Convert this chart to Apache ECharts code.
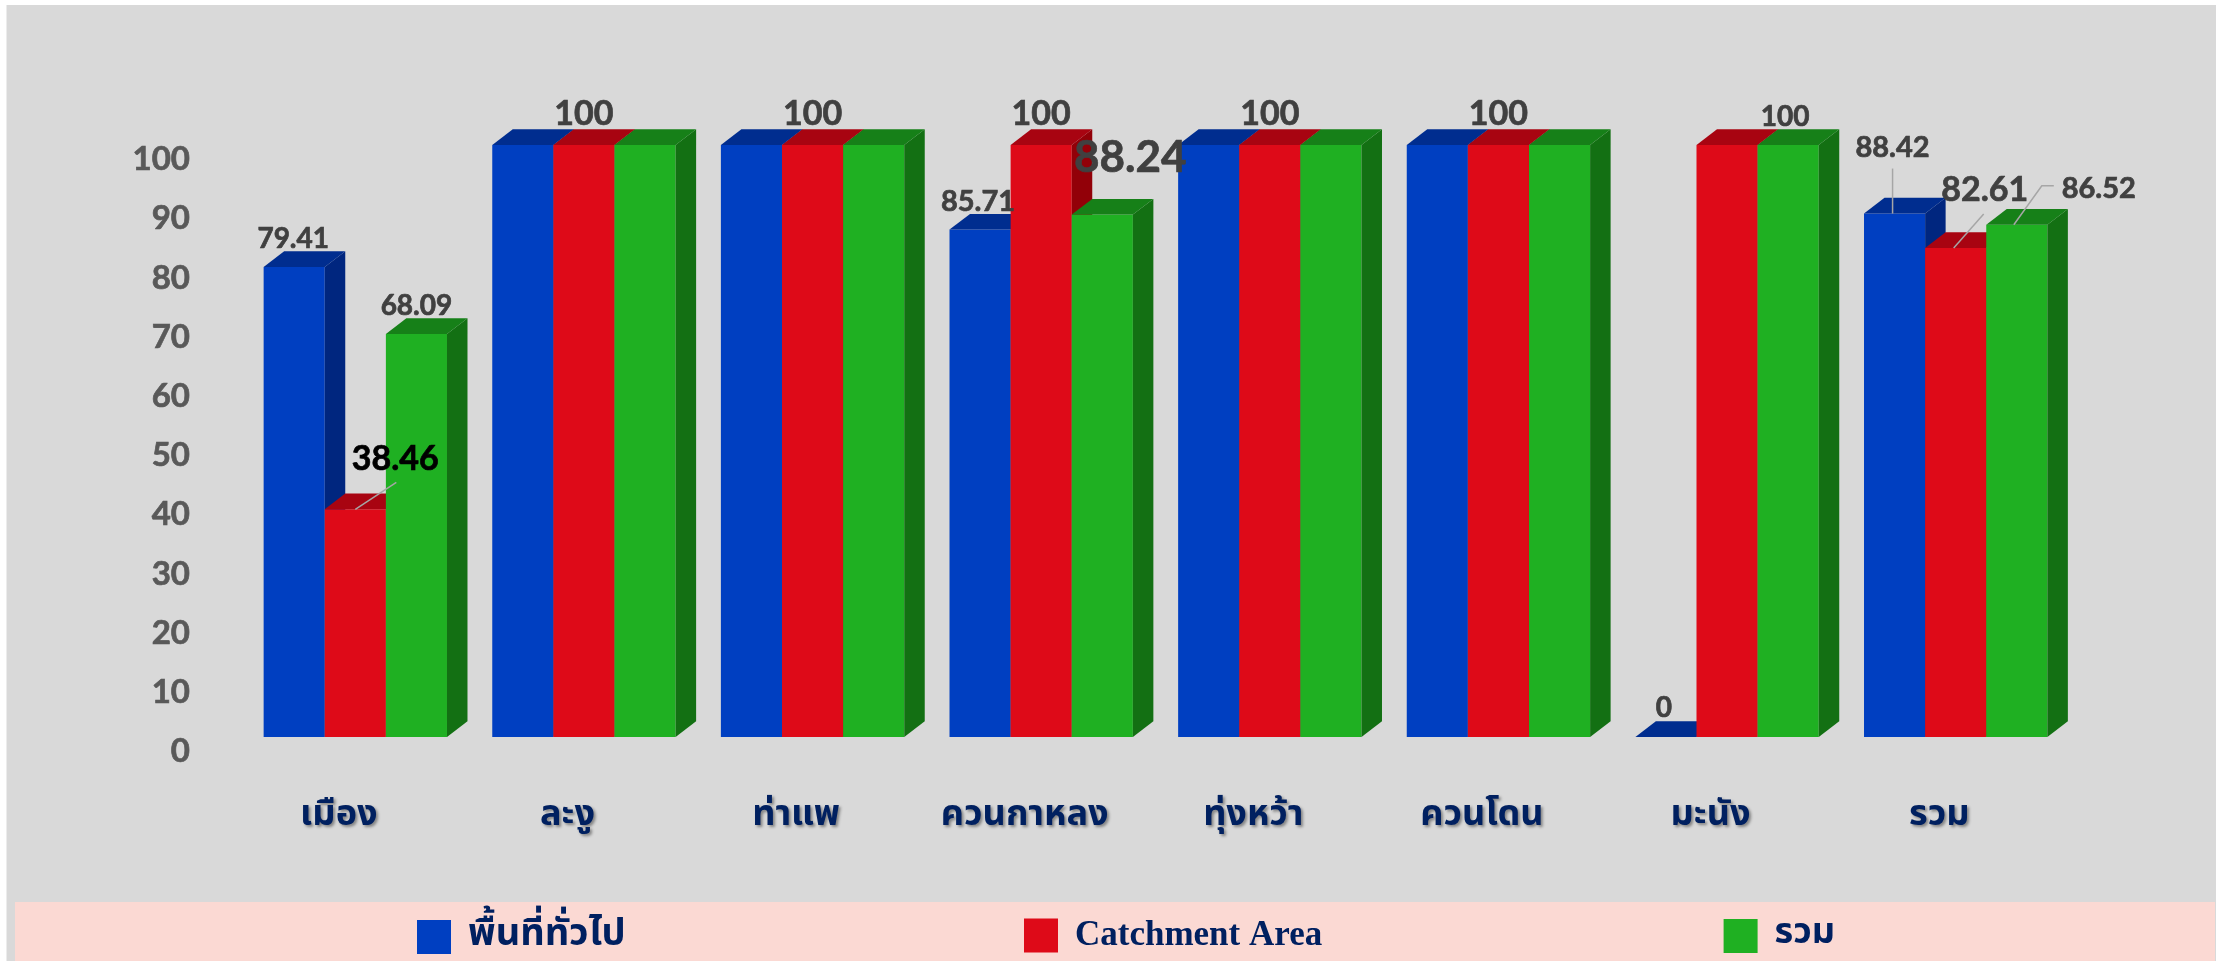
<!DOCTYPE html>
<html><head><meta charset="utf-8">
<style>html,body{margin:0;padding:0;background:#fff}#c{width:2227px;height:961px}</style>
<script src="https://cdn.jsdelivr.net/npm/echarts@6/dist/echarts.min.js"></script>
</head><body><div id="c"></div>
<script>
const categories = ['เมือง','ละงู','ท่าแพ','ควนกาหลง','ทุ่งหว้า','ควนโดน','มะนัง','รวม'];
const seriesNames = ['พื้นที่ทั่วไป','Catchment Area','รวม'];
const generalArea = [79.41,100,100,85.71,100,100,0,88.42];
const catchmentArea = [38.46,100,100,100,100,100,100,82.61];
const totalArea = [68.09,100,100,88.24,100,100,100,86.52];
const yTicks = [0,10,20,30,40,50,60,70,80,90,100];

const palette = [
  {front:'#003fc1',top:'#002d8f',side:'#00267f'},
  {front:'#de0a18',top:'#a80411',side:'#920008'},
  {front:'#1fb022',top:'#168018',side:'#137013'}
];
const DEPTH_X = 20.5, DEPTH_Y = 15.7, GROUP_RATIO = 0.802;

// label look and placement, relative to the middle of the bar's top edge
const labelStyle = {
  '0-0':{dx:-1,dy:-28,size:28},
  '0-3':{dx:-2,dy:-28,size:29},
  '0-6':{dx:-2,dy:-29,size:28},
  '0-7':{dx:-2,dy:-66,size:29,line:[[-2,0],[-2,-45]]},
  '1-0':{dx:40,dy:-50,size:34,color:'#000',line:[[0,0],[41,-27]]},
  '1-1':{dx:0,dy:-31,size:34},'1-2':{dx:0,dy:-31,size:34},'1-3':{dx:0,dy:-31,size:34},
  '1-4':{dx:0,dy:-31,size:34},'1-5':{dx:0,dy:-31,size:34},
  '1-7':{dx:29,dy:-58,size:34,line:[[-2,0],[28,-34]]},
  '2-0':{dx:0,dy:-28,size:28},
  '2-3':{dx:28,dy:-57,size:44},
  '2-6':{dx:-3,dy:-28,size:28},
  '2-7':{dx:82,dy:-36,size:29,line:[[-3,0],[25,-39],[37,-39]]}
};

function makeRender(si){
  const p = palette[si];
  return function(params, api){
    const cat = api.value(0), val = api.value(1);
    const band = api.size([1,0])[0];
    const w = band*GROUP_RATIO/3;
    const c0 = api.coord([cat,0]), c1 = api.coord([cat,val]);
    const x0 = c0[0] - band*GROUP_RATIO/2 + si*w, x1 = x0 + w;
    const yB = c0[1], yT = c1[1];
    const kids = [];
    if (yB > yT) kids.push({type:'polygon',z2:si+1,shape:{points:[[x0,yT],[x1,yT],[x1,yB],[x0,yB]]},
      style:{fill:p.front}});
    kids.push({type:'polygon',z2:si+1,shape:{points:[[x1,yT],[x1+DEPTH_X,yT-DEPTH_Y],[x1+DEPTH_X,yB-DEPTH_Y],[x1,yB]]},style:{fill:p.side}});
    kids.push({type:'polygon',z2:si+1,shape:{points:[[x0,yT],[x1,yT],[x1+DEPTH_X,yT-DEPTH_Y],[x0+DEPTH_X,yT-DEPTH_Y]]},style:{fill:p.top}});
    const ls = labelStyle[si+'-'+cat];
    if (ls){
      const cx = (x0+x1)/2, col = ls.color||'#404040';
      if (ls.line) kids.push({type:'polyline',z2:50,shape:{points:ls.line.map(q=>[cx+q[0],yT+q[1]])},style:{fill:null,stroke:'#a6a6a6',lineWidth:1.5}});
      kids.push({type:'text',z2:60,x:cx+ls.dx,y:yT+ls.dy,style:{text:String(val),fontFamily:'Lato',fontWeight:'bold',fontSize:ls.size,fill:col,stroke:col,lineWidth:0.7,align:'center',verticalAlign:'middle'}});
    }
    return {type:'group',children:kids};
  };
}
const values = [generalArea,catchmentArea,totalArea];
const legendLeft = [417,1024,1723.6];
const thaiFont = '"Noto Sans Thai","Noto Sans","DejaVu Sans",sans-serif';

const chart = echarts.init(document.getElementById('c'),null,{renderer:'canvas'});
chart.setOption({
  animation:false,
  backgroundColor:'#ffffff',
  graphic:[
    {type:'rect',z:-1,silent:true,shape:{x:6.5,y:5,width:2209.5,height:956},style:{fill:'#d9d9d9'}},
    {type:'rect',z:-1,silent:true,shape:{x:15,y:902,width:2200,height:59},style:{fill:'#fbd9d3'}}
  ],
  grid:{left:241,width:1829,top:145,height:592,containLabel:false},
  xAxis:{type:'category',data:categories,axisLine:{show:false},axisTick:{show:false},
    axisLabel:{interval:0,margin:63,padding:[0,33,0,0],fontFamily:thaiFont,fontWeight:'bold',fontSize:36,color:'#002060',
      textShadowColor:'rgba(0,0,0,0.4)',textShadowBlur:3,textShadowOffsetX:2,textShadowOffsetY:2}},
  yAxis:{type:'value',min:yTicks[0],max:yTicks[yTicks.length-1],interval:10,axisLine:{show:false},axisTick:{show:false},splitLine:{show:false},
    axisLabel:{margin:51,verticalAlign:'top',lineHeight:29,fontFamily:'Lato',fontWeight:'bold',fontSize:33,color:'#595959',textBorderColor:'#595959',textBorderWidth:0.7}},
  legend:seriesNames.map((n,i)=>({data:[n],left:legendLeft[i],top:918,padding:0,itemWidth:34,itemHeight:34,itemGap:0,icon:'rect',selectedMode:false,
    textStyle:{fontFamily:i===1?'"Liberation Serif"':thaiFont,fontWeight:'bold',fontSize:i===1?35:i===0?38:36,color:'#002060',padding:[0,0,0,12]}})),
  series:seriesNames.map((n,i)=>({type:'custom',name:n,renderItem:makeRender(i),clip:false,
    itemStyle:{color:palette[i].front},encode:{x:0,y:1},
    data:values[i].map((v,k)=>[k,v])}))
});
</script></body></html>
